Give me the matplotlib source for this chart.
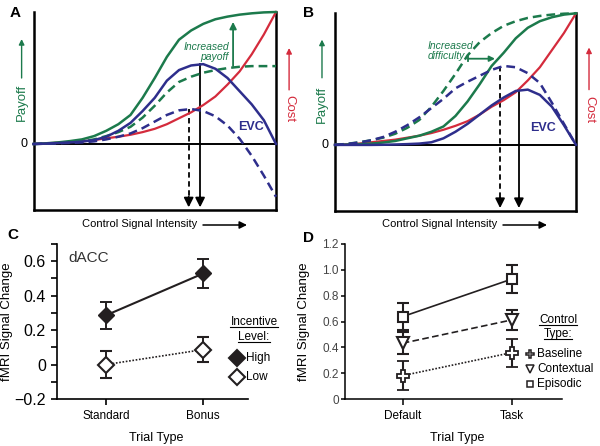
import matplotlib
matplotlib.use('Agg')
import matplotlib.pyplot as plt
from matplotlib.lines import Line2D
from matplotlib.patches import FancyArrowPatch

plt.rcParams['font.family'] = ['Liberation Sans', 'DejaVu Sans']

#colours
GREEN = '#1c7a4c'
RED = '#d42b3c'
BLUE = '#2e2e8c'
DARK = '#231f20'

#figure size in pixels
W, H = 600, 446

#----- panel A/B data: curves sampled along control signal intensity (0..1)
intensity = [0.0, 0.05, 0.1, 0.15, 0.2, 0.25, 0.3, 0.35, 0.4, 0.45, 0.5,
             0.55, 0.6, 0.65, 0.7, 0.75, 0.8, 0.85, 0.9, 0.95, 1.0]

#panel A: increased payoff
payoff_a = [0, .005, .012, .022, .035, .06, .10, .15, .22, .35, .50,
            .66, .79, .86, .91, .945, .965, .98, .99, .997, 1.0]
payoff_low_a = [0, .003, .007, .013, .02, .035, .06, .09, .13, .20, .29,
                .39, .47, .51, .54, .56, .575, .585, .59, .59, .59]
cost_a = [0, .005, .01, .015, .02, .03, .043, .055, .07, .09, .115,
          .15, .195, .24, .295, .36, .45, .55, .68, .83, 1.0]
evc_a = [0, .003, .007, .012, .018, .03, .055, .10, .16, .25, .35,
         .48, .56, .595, .605, .57, .50, .40, .30, .18, 0]
evc_low_a = [0, .002, .005, .008, .012, .02, .035, .055, .08, .12, .17,
             .22, .255, .265, .25, .21, .14, .04, -.09, -.24, -.40]
#optimal intensity: [x, peak] for solid and dashed EVC
opt_a = [0.687, 0.605]
opt_low_a = [0.64, 0.265]

#panel B: increased difficulty
payoff_b = [0, .003, .006, .01, .018, .03, .05, .07, .10, .14, .22,
            .33, .46, .60, .70, .81, .89, .94, .97, .99, 1.0]
payoff_easy_b = [0, .008, .02, .035, .055, .085, .13, .19, .29, .41, .54,
                 .68, .78, .85, .905, .94, .965, .98, .99, .997, 1.0]
cost_b = [0, .005, .01, .02, .03, .04, .055, .07, .09, .115, .145,
          .18, .23, .29, .34, .40, .49, .59, .72, .85, 1.0]
evc_b = [0, 0, 0, 0, .001, .003, .006, .01, .02, .05, .10,
         .16, .23, .30, .36, .41, .42, .38, .29, .15, 0]
evc_easy_b = [0, .007, .018, .035, .06, .10, .15, .21, .28, .35, .43,
              .48, .525, .57, .60, .59, .545, .47, .32, .16, 0]
opt_b = [0.763, 0.42]
opt_easy_b = [0.685, 0.60]

#----- panel C data: dACC
trials_c = ['Standard', 'Bonus']
high_c = [0.286, 0.529]
high_err_c = [0.08, 0.082]
low_c = [0.0, 0.087]
low_err_c = [0.077, 0.071]

#----- panel D data
trials_d = ['Default', 'Task']
episodic_d = [0.638, 0.928]
episodic_err_d = [0.106, 0.11]
contextual_d = [0.432, 0.612]
contextual_err_d = [0.085, 0.078]
baseline_d = [0.181, 0.359]
baseline_err_d = [0.11, 0.108]


def px_rect(l, t, r, b):
    #axes rectangle from pixel edges
    return [l / W, 1 - b / H, (r - l) / W, (b - t) / H]


fig = plt.figure(figsize=(W / 100, H / 100), dpi=100)


def model_panel(rect, payoff, payoff_alt, cost, evc, evc_alt, opt, opt_alt):
    ax = fig.add_axes(rect)
    ax.set_xlim(0, 1)
    ax.set_ylim(-0.5, 1.0)
    ax.spines['top'].set_visible(False)
    for s in ['left', 'right', 'bottom']:
        ax.spines[s].set_linewidth(1.8)
    ax.set_xticks([])
    ax.set_yticks([])
    ax.axhline(0, color='k', lw=1.4, zorder=1)
    ax.plot(intensity, cost, color=RED, lw=1.6, clip_on=False, zorder=3)
    ax.plot(intensity, payoff, color=GREEN, lw=1.8, clip_on=False, zorder=3)
    ax.plot(intensity, payoff_alt, color=GREEN, lw=1.8, dashes=(3.5, 2), clip_on=False, zorder=3)
    ax.plot(intensity, evc_alt, color=BLUE, lw=1.8, dashes=(3.5, 2), clip_on=False, zorder=3)
    ax.plot(intensity, evc, color=BLUE, lw=1.8, clip_on=False, zorder=4)
    #optimal control signal arrows
    ax.plot([opt[0], opt[0]], [opt[1], -0.40], color='k', lw=1.3, zorder=2)
    ax.plot([opt_alt[0], opt_alt[0]], [opt_alt[1], -0.40], color='k', lw=1.3, dashes=(3, 2), zorder=2)
    for x in [opt[0], opt_alt[0]]:
        ax.annotate('', xy=(x, -0.48), xytext=(x, -0.40),
                    arrowprops=dict(arrowstyle='-|>', color='k', lw=1.3,
                                    mutation_scale=14, shrinkA=0, shrinkB=0))
    ax.text(-0.025, 0, '0', ha='right', va='center', fontsize=9)
    return ax


def side_labels(ax, xl, xr, pay_y, pay_arr, cost_y, cost_arr):
    ax.text(xl, pay_y, 'Payoff', rotation=90, color=GREEN, ha='center', va='center', fontsize=9.5)
    ax.annotate('', xy=(xl, pay_arr[1]), xytext=(xl, pay_arr[0]), annotation_clip=False,
                arrowprops=dict(arrowstyle='-|>', color=GREEN, lw=1, mutation_scale=8, shrinkA=0, shrinkB=0))
    ax.text(xr, cost_y, 'Cost', rotation=270, color=RED, ha='center', va='center', fontsize=9.5)
    ax.annotate('', xy=(xr, cost_arr[1]), xytext=(xr, cost_arr[0]), annotation_clip=False,
                arrowprops=dict(arrowstyle='-|>', color=RED, lw=1, mutation_scale=8, shrinkA=0, shrinkB=0))


#----- panel A
axA = model_panel(px_rect(33.5, 12, 276, 210), payoff_a, payoff_low_a, cost_a,
                  evc_a, evc_low_a, opt_a, opt_low_a)
side_labels(axA, -0.049, 1.054, 0.318, (0.5, 0.795), 0.265, (0.41, 0.727))
axA.text(0.806, 0.70, 'Increased\npayoff', ha='right', va='center', multialignment='right',
         style='italic', color=GREEN, fontsize=7.5, linespacing=1.0)
axA.annotate('', xy=(0.823, 0.925), xytext=(0.823, 0.59),
             arrowprops=dict(arrowstyle='-|>', color=GREEN, lw=1.3, mutation_scale=10, shrinkA=0, shrinkB=0))
axA.text(0.897, 0.13, 'EVC', color=BLUE, fontsize=9, weight='bold', ha='center', va='center')

#----- panel B
axB = model_panel(px_rect(335, 13.3, 576, 210.7), payoff_b, payoff_easy_b, cost_b,
                  evc_b, evc_easy_b, opt_b, opt_easy_b)
side_labels(axB, -0.054, 1.054, 0.31, (0.51, 0.80), 0.27, (0.42, 0.74))
axB.text(0.386, 0.714, 'Increased\ndifficulty', ha='left', va='center',
         style='italic', color=GREEN, fontsize=7.5, linespacing=1.0)
axB.annotate('', xy=(0.664, 0.655), xytext=(0.553, 0.655),
             arrowprops=dict(arrowstyle='-|>', color=GREEN, lw=1.3, mutation_scale=8, shrinkA=0, shrinkB=0))
axB.plot([0.553, 0.553], [0.635, 0.675], color=GREEN, lw=1.3)
axB.text(0.865, 0.13, 'EVC', color=BLUE, fontsize=9, weight='bold', ha='center', va='center')

#x-axis captions with arrows
for cx, a0, a1 in [(140, 203, 247), (440, 503, 547)]:
    fig.text(cx / W, 1 - 224 / H, 'Control Signal Intensity', ha='center', va='center', fontsize=8)
    fig.add_artist(FancyArrowPatch(
        (a0 / W, 1 - 225 / H), (a1 / W, 1 - 225 / H), transform=fig.transFigure,
        arrowstyle='-|>', mutation_scale=11, color='k', lw=1.1, shrinkA=0, shrinkB=0))

#----- panel C
axC = fig.add_axes(px_rect(57, 244, 248, 399))
axC.errorbar([0, 1], high_c, yerr=high_err_c, color=DARK, marker='D', ms=8, mfc=DARK,
             lw=1.5, elinewidth=1.4, capsize=4.5, capthick=1.4, zorder=3)
axC.errorbar([0, 1], low_c, yerr=low_err_c, color=DARK, marker='D', ms=8, mfc='white', mew=1.5,
             lw=1.2, ls=(0, (1, 1)), elinewidth=1.4, capsize=4.5, capthick=1.4, zorder=3)
axC.set_xlim(-0.504, 1.46)
axC.set_ylim(-0.2, 0.7)
axC.set_yticks([-0.2, 0, 0.2, 0.4, 0.6])
axC.set_yticklabels(['\u22120.2', '0', '0.2', '0.4', '0.6'])
axC.set_yticks([-0.1, 0.1, 0.3, 0.5, 0.7], minor=True)
axC.set_xticks([0, 1])
axC.set_xticklabels(trials_c, fontsize=8.5)
axC.tick_params(axis='y', which='both', length=4, width=1.2, labelsize=11.5, pad=4)
axC.tick_params(axis='x', length=4, width=1.2, pad=4)
for s in ['top', 'right']:
    axC.spines[s].set_visible(False)
for s in ['left', 'bottom']:
    axC.spines[s].set_linewidth(1.2)
axC.set_ylabel('fMRI Signal Change', fontsize=9.5)
axC.yaxis.set_label_coords(-0.23, 0.5)
axC.set_xlabel('Trial Type', fontsize=9)
axC.xaxis.set_label_coords(0.52, -0.213)
fig.text(68 / W, 1 - 258 / H, 'dACC', fontsize=11, color='#333333', ha='left', va='center')

#----- panel D
axD = fig.add_axes(px_rect(345, 244, 561.7, 399))
axD.errorbar([0, 1], episodic_d, yerr=episodic_err_d, color=DARK, marker='s', ms=6.5, mfc='white',
             mew=1.5, lw=1.2, elinewidth=1.5, capsize=4.5, capthick=1.5, zorder=3)
axD.errorbar([0, 1], contextual_d, yerr=contextual_err_d, color=DARK, marker='v', ms=8, mfc='white',
             mew=1.5, lw=1.2, ls=(0, (4, 2)), elinewidth=1.5, capsize=4.5, capthick=1.5, zorder=3)
axD.errorbar([0, 1], baseline_d, yerr=baseline_err_d, color=DARK, marker='P', ms=9, mfc='white',
             mew=1.3, lw=1.2, ls=(0, (1, 1)), elinewidth=1.5, capsize=4.5, capthick=1.5, zorder=3)
axD.set_xlim(-0.53, 1.46)
axD.set_ylim(0, 1.2)
axD.set_yticks([0, 0.2, 0.4, 0.6, 0.8, 1.0, 1.2])
axD.set_yticklabels(['0', '0.2', '0.4', '0.6', '0.8', '1.0', '1.2'])
axD.set_xticks([0, 1])
axD.set_xticklabels(trials_d, fontsize=8.5)
axD.tick_params(axis='y', length=3, width=1.1, labelsize=8.5, labelcolor='#444444', pad=1.5)
axD.tick_params(axis='x', length=4, width=1.1, pad=4)
for s in ['top', 'right']:
    axD.spines[s].set_visible(False)
for s in ['left', 'bottom']:
    axD.spines[s].set_linewidth(1.1)
axD.set_ylabel('fMRI Signal Change', fontsize=9.5)
axD.yaxis.set_label_coords(-0.16, 0.5)
axD.set_xlabel('Trial Type', fontsize=9)
axD.xaxis.set_label_coords(0.517, -0.213)

#----- legends (hand placed, with underlined titles)
titles = []
titles.append(fig.text(254 / W, 1 - 322 / H, 'Incentive', ha='center', va='center', fontsize=8.5))
titles.append(fig.text(254 / W, 1 - 337 / H, 'Level:', ha='center', va='center', fontsize=8.5))
for y, label, face in [(358, 'High', DARK), (377, 'Low', 'white')]:
    fig.add_artist(Line2D([237 / W], [1 - y / H], transform=fig.transFigure, marker='D', ms=8,
                          mfc=face, mec=DARK, mew=1.5, ls='none'))
    fig.text(246 / W, 1 - y / H, label, ha='left', va='center', fontsize=8.5)

titles.append(fig.text(558 / W, 1 - 320 / H, 'Control', ha='center', va='center', fontsize=8.5))
titles.append(fig.text(558 / W, 1 - 334 / H, 'Type:', ha='center', va='center', fontsize=8.5))
for y, label, mk, ms in [(354, 'Baseline', 'P', 6), (369, 'Contextual', 'v', 5.5), (384, 'Episodic', 's', 5)]:
    fig.add_artist(Line2D([530 / W], [1 - y / H], transform=fig.transFigure, marker=mk, ms=ms,
                          mfc='white', mec=DARK, mew=1.1, ls='none'))
    fig.text(537 / W, 1 - y / H, label, ha='left', va='center', fontsize=8.5)

#panel letters
for x, y, letter in [(15, 13, 'A'), (308, 13, 'B'), (13, 235, 'C'), (308, 238, 'D')]:
    fig.text(x / W, 1 - y / H, letter, ha='center', va='center', fontsize=11, weight='bold')

#underline the legend titles
fig.canvas.draw()
renderer = fig.canvas.get_renderer()
for t in titles:
    bb = t.get_window_extent(renderer).transformed(fig.transFigure.inverted())
    fig.add_artist(Line2D([bb.x0, bb.x1], [bb.y0 + 0.002, bb.y0 + 0.002],
                          transform=fig.transFigure, color='k', lw=0.8))

fig.savefig('out.png', dpi=100)
